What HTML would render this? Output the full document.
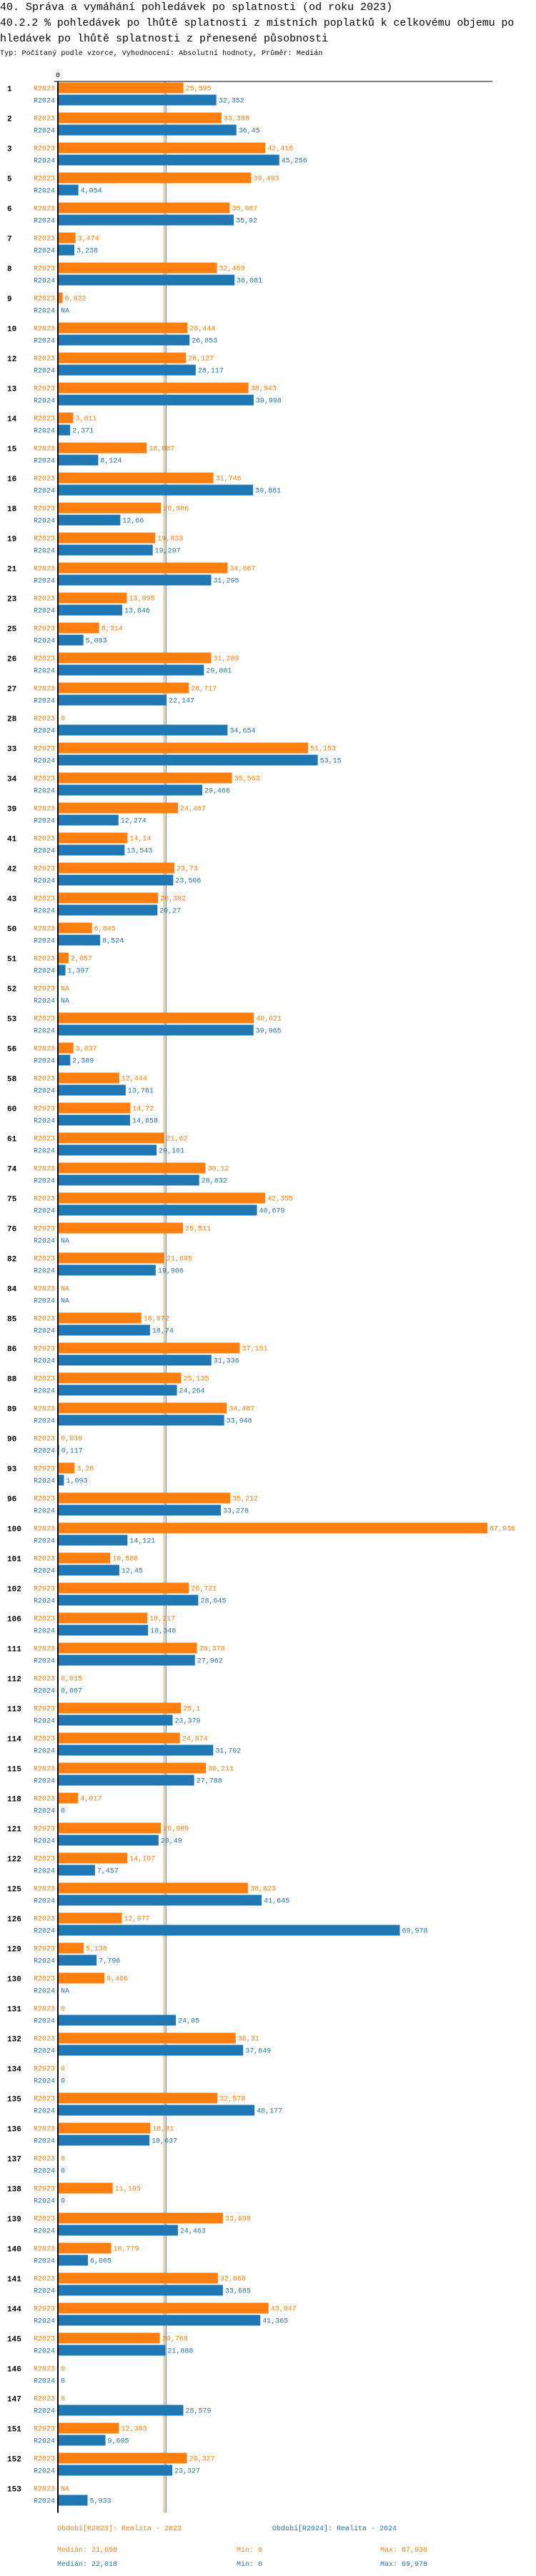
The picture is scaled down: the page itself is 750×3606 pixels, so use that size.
<!DOCTYPE html>
<html><head><meta charset="utf-8">
<style>
html,body{margin:0;padding:0;background:#fff;width:750px;height:3606px;overflow:hidden;}
svg{display:block;}
text{font-family:"Liberation Mono",monospace;}
</style></head>
<body>
<svg id="chart" width="750" height="3606" xmlns="http://www.w3.org/2000/svg">
<text x="0" y="14" font-size="15" fill="#000">40. Správa a vymáhání pohledávek po splatnosti (od roku 2023)</text>
<text x="0" y="36" font-size="14.8" fill="#000">40.2.2 % pohledávek po lhůtě splatnosti z místních poplatků k celkovému objemu po</text>
<text x="0" y="58" font-size="15" fill="#000">hledávek po lhůtě splatnosti z přenesené působnosti</text>
<text x="0" y="77" font-size="10" letter-spacing="0.1" fill="#000">Typ: Počítaný podle vzorce, Vyhodnocení: Absolutní hodnoty, Průměr: Medián</text>
<g id="plot"></g>
<text x="80" y="3542" font-size="10" fill="#ff7f0e">Období[R2023]: Realita - 2023</text>
<text x="381" y="3542" font-size="10" fill="#1f77b4">Období[R2024]: Realita - 2024</text>
<text x="80" y="3572" font-size="10" fill="#ff7f0e">Medián: 21,658</text>
<text x="331" y="3572" font-size="10" fill="#ff7f0e">Min: 0</text>
<text x="532" y="3572" font-size="10" fill="#ff7f0e">Max: 87,936</text>
<text x="80" y="3592" font-size="10" fill="#1f77b4">Medián: 22,018</text>
<text x="331" y="3592" font-size="10" fill="#1f77b4">Min: 0</text>
<text x="532" y="3592" font-size="10" fill="#1f77b4">Max: 69,978</text>
</svg>
<script>
const categories = ["1","2","3","5","6","7","8","9","10","12","13","14","15","16","18","19","21","23","25","26","27","28","33","34","39","41","42","43","50","51","52","53","56","58","60","61","74","75","76","82","84","85","86","88","89","90","93","96","100","101","102","106","111","112","113","114","115","118","121","122","125","126","129","130","131","132","134","135","136","137","138","139","140","141","144","145","146","147","151","152","153"];
const values2023 = [25.595,33.398,42.416,39.493,35.087,3.474,32.469,0.822,26.444,26.127,38.943,3.011,18.087,31.746,20.986,19.833,34.667,13.995,8.314,31.289,26.717,0,51.153,35.563,24.467,14.14,23.73,20.392,6.845,2.057,null,40.021,3.037,12.444,14.72,21.62,30.12,42.355,25.511,21.695,null,16.972,37.151,25.135,34.487,0.039,3.28,35.212,87.936,10.588,26.721,18.217,28.378,0.015,25.1,24.874,30.211,4.017,20.989,14.107,38.823,12.977,5.136,9.406,0,36.31,0,32.578,18.81,0,11.103,33.698,10.779,32.668,43.047,20.768,0,0,12.383,26.327,null];
const values2024 = [32.352,36.45,45.256,4.054,35.92,3.238,36.081,null,26.853,28.117,39.998,2.371,8.124,39.881,12.66,19.297,31.295,13.046,5.083,29.801,22.147,34.654,53.15,29.466,12.274,13.543,23.506,20.27,8.524,1.397,null,39.965,2.389,13.761,14.658,20.101,28.832,40.679,null,19.906,null,18.74,31.336,24.264,33.948,0.117,1.093,33.278,14.121,12.45,28.645,18.348,27.962,0.007,23.379,31.702,27.788,0,20.49,7.457,41.645,69.978,7.796,null,24.05,37.849,0,40.177,18.637,0,0,24.463,6.005,33.685,41.365,21.888,0,25.579,9.605,23.327,5.933];
const medians = [21.658, 22.018];
const xTicks = [0];

const NS = "http://www.w3.org/2000/svg";
const plot = document.getElementById('plot');
const X0 = 82, XMAX = 87.936, XW = 600;
const ROW0 = 123.5, PITCH = 42;
const C23 = "#ff7f0e", C24 = "#1f77b4";
function xs(v){ return X0 + v / XMAX * XW; }
function ys(i){ return ROW0 + i * PITCH; }
function fmt(v){ return v === null ? "NA" : String(v).replace('.', ','); }
function mk(tag, attrs, parent){
  const e = document.createElementNS(NS, tag);
  for (const k in attrs) e.setAttribute(k, attrs[k]);
  (parent || plot).appendChild(e);
  return e;
}
const yBottom = ys(categories.length - 1) + 34;

const mcols = [C23, C24];
medians.forEach((m, k) => {
  const l = mk('line', {x1: xs(m), x2: xs(m), y1: 114, y2: yBottom, stroke: mcols[k], 'stroke-width': 1});
  
  
});

const topLine = mk('line', {x1: 76, x2: 689, y1: 114, y2: 114, stroke: '#000', 'stroke-width': 1});


xTicks.forEach(t => {
  const tk = mk('line', {x1: 76, x2: xs(t), y1: 114, y2: 114, stroke: '#000', 'stroke-width': 1});
  
  
  const tl = mk('text', {x: xs(t) - 1, y: 108, 'font-size': 10, 'text-anchor': 'middle', fill: '#000'});
  tl.textContent = String(t);
  
  
});
const axisLine = mk('line', {x1: 81, x2: 81, y1: 114, y2: yBottom, stroke: '#000', 'stroke-width': 2});



categories.forEach((c, i) => {
  const cy = ys(i);
  const cl = mk('text', {x: 10, y: cy + 4, 'font-size': 11, 'font-weight': 'bold', fill: '#000'});
  cl.textContent = c;
  
  
  const series = [[values2023[i], 'R2023', C23, cy - 8], [values2024[i], 'R2024', C24, cy + 9]];
  series.forEach(([v, nm, col, by], k) => {
    const sl = mk('text', {x: 77, y: by + 11, 'font-size': 10, 'text-anchor': 'end', fill: col});
    sl.textContent = nm;
    
    
    let end = X0;
    if (v !== null && v > 0) {
      const r = mk('rect', {x: X0, y: by, width: xs(v) - X0, height: 15, fill: col});
      
      
      end = xs(v);
    }
    const vl = mk('text', {x: end + 3, y: by + 11, 'font-size': 10, fill: col});
    vl.textContent = fmt(v);
    
    
  });
});
</script>
</body></html>
